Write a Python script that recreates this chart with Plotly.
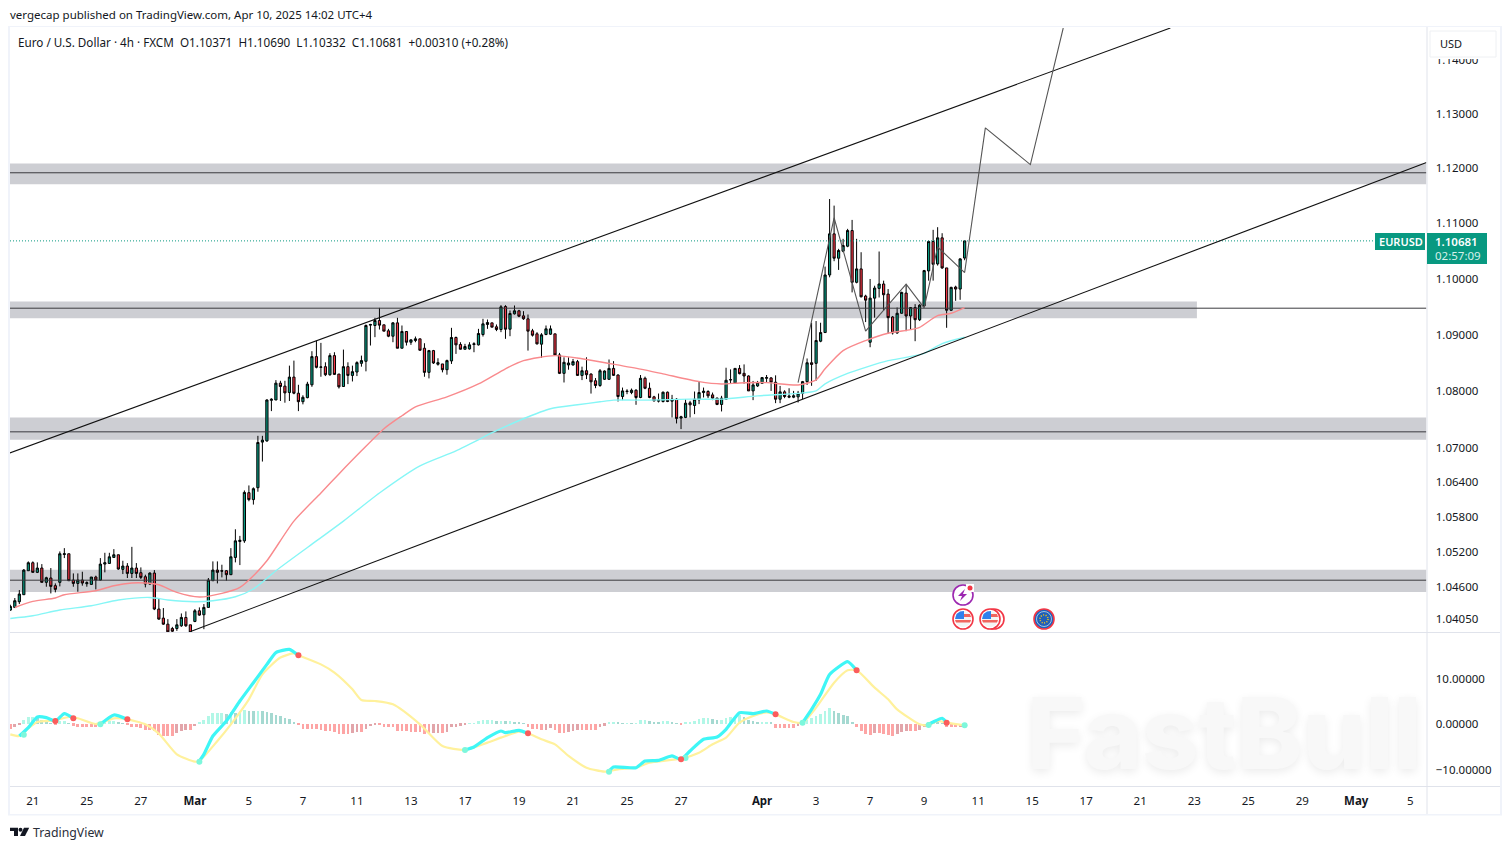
import numpy as np
import plotly.graph_objects as go

# EUR/USD 4h bars, oldest first
opens = [
    1.04199, 1.04245, 1.04342, 1.04462, 1.04872, 1.05009, 1.04844, 1.04918, 1.04673, 1.04747,
    1.04616, 1.04673, 1.05151, 1.05163, 1.04712, 1.04655, 1.04712, 1.04650, 1.04638, 1.04764,
    1.04712, 1.04986, 1.04997, 1.05100, 1.05146, 1.04895, 1.04952, 1.04826, 1.04918, 1.04838,
    1.04769, 1.04644, 1.04832, 1.04217, 1.04063, 1.03960, 1.03886, 1.03886, 1.03932, 1.04074,
    1.03949, 1.04006, 1.04188, 1.04120, 1.04245, 1.04701, 1.04883, 1.04872, 1.04872, 1.04804,
    1.05100, 1.05374, 1.05385, 1.06218, 1.06098, 1.06305, 1.07100, 1.07120, 1.07834, 1.07840,
    1.08137, 1.08084, 1.07971, 1.08244, 1.07959, 1.07810, 1.07881, 1.08108, 1.08607, 1.08417,
    1.08429, 1.08286, 1.08625, 1.08298, 1.08078, 1.08429, 1.08274, 1.08334, 1.08488, 1.08524,
    1.09167, 1.09161, 1.09250, 1.09173, 1.09066, 1.08970, 1.09208, 1.08756, 1.09054, 1.08863,
    1.08893, 1.08923, 1.08756, 1.08328, 1.08714, 1.08471, 1.08477, 1.08375, 1.08530, 1.08947,
    1.08822, 1.08738, 1.08744, 1.08822, 1.08816, 1.09000, 1.09179, 1.09208, 1.09137, 1.09089,
    1.09500, 1.09095, 1.09369, 1.09423, 1.09333, 1.09280, 1.09066, 1.09012, 1.08828, 1.09000,
    1.09006, 1.09012, 1.08637, 1.08310, 1.08459, 1.08459, 1.08518, 1.08274, 1.08357, 1.08298,
    1.08179, 1.08096, 1.08205, 1.08205, 1.08398, 1.08281, 1.07901, 1.07989, 1.07971, 1.08012,
    1.07884, 1.08223, 1.08047, 1.07895, 1.07819, 1.07813, 1.07977, 1.07819, 1.07854, 1.07521,
    1.07533, 1.07790, 1.07743, 1.07842, 1.07971, 1.07989, 1.07930, 1.07872, 1.07761, 1.07854,
    1.08194, 1.08141, 1.08398, 1.08311, 1.08264, 1.08000, 1.08088, 1.08135, 1.08223, 1.08229,
    1.08153, 1.07854, 1.07983, 1.07889, 1.07889, 1.07895, 1.07954, 1.08164, 1.08498, 1.08488,
    1.08881, 1.09035, 1.10066, 1.10808, 1.10368, 1.10495, 1.10585, 1.10868, 1.09934, 1.10175,
    1.09687, 1.08863, 1.09650, 1.09825, 1.09904, 1.09723, 1.09313, 1.09029, 1.09379, 1.09741,
    1.09331, 1.09482, 1.09264, 1.09512, 1.10139, 1.10669, 1.10265, 1.10736, 1.10193, 1.09433,
    1.09849, 1.09813, 1.10371,
]
highs = [
    1.04291, 1.04405, 1.04541, 1.04901, 1.05032, 1.05032, 1.05015, 1.04986, 1.04769, 1.04918,
    1.04655, 1.05203, 1.05260, 1.05163, 1.04826, 1.04826, 1.04855, 1.04690, 1.04764, 1.04787,
    1.05089, 1.05180, 1.05180, 1.05243, 1.05146, 1.05043, 1.05003, 1.05282, 1.05003, 1.04929,
    1.04804, 1.04844, 1.04883, 1.04405, 1.04234, 1.04046, 1.03914, 1.04046, 1.04142, 1.04177,
    1.03949, 1.04217, 1.04245, 1.04302, 1.04747, 1.05032, 1.05032, 1.04975, 1.04883, 1.05260,
    1.05585, 1.05471, 1.06257, 1.06344, 1.06310, 1.07210, 1.07210, 1.07852, 1.07870, 1.08191,
    1.08179, 1.08179, 1.08447, 1.08536, 1.08108, 1.07923, 1.08161, 1.08703, 1.08893, 1.08851,
    1.08506, 1.08667, 1.08685, 1.08298, 1.08732, 1.08506, 1.08447, 1.08524, 1.08625, 1.09179,
    1.09190, 1.09298, 1.09476, 1.09173, 1.09101, 1.09220, 1.09298, 1.09161, 1.09060, 1.08911,
    1.08964, 1.08923, 1.08845, 1.08726, 1.08726, 1.08578, 1.08477, 1.08554, 1.09119, 1.08964,
    1.08863, 1.08834, 1.08863, 1.08863, 1.09101, 1.09280, 1.09268, 1.09208, 1.09179, 1.09524,
    1.09524, 1.09429, 1.09518, 1.09440, 1.09417, 1.09357, 1.09101, 1.09042, 1.09024, 1.09161,
    1.09161, 1.09012, 1.08673, 1.08595, 1.08595, 1.08566, 1.08548, 1.08429, 1.08595, 1.08310,
    1.08227, 1.08387, 1.08363, 1.08556, 1.08527, 1.08293, 1.08059, 1.08030, 1.08042, 1.08030,
    1.08281, 1.08252, 1.08147, 1.07913, 1.07954, 1.07989, 1.07989, 1.07930, 1.07872, 1.07562,
    1.07854, 1.07825, 1.07989, 1.08176, 1.08059, 1.08012, 1.07971, 1.07884, 1.07913, 1.08410,
    1.08381, 1.08398, 1.08457, 1.08469, 1.08275, 1.08176, 1.08176, 1.08246, 1.08281, 1.08246,
    1.08275, 1.08088, 1.08012, 1.08047, 1.08000, 1.08000, 1.08176, 1.08574, 1.09210, 1.09240,
    1.09210, 1.10217, 1.11441, 1.11321, 1.10537, 1.10718, 1.10899, 1.11061, 1.10718, 1.10476,
    1.09711, 1.09994, 1.09873, 1.10489, 1.09964, 1.09813, 1.09331, 1.09482, 1.09765, 1.09892,
    1.09482, 1.09542, 1.09542, 1.10157, 1.10688, 1.10881, 1.10929, 1.10820, 1.10193, 1.09855,
    1.09873, 1.10368, 1.10690,
]
lows = [
    1.04188, 1.04234, 1.04302, 1.04462, 1.04872, 1.04844, 1.04832, 1.04673, 1.04598, 1.04484,
    1.04502, 1.04604, 1.05089, 1.04701, 1.04598, 1.04513, 1.04616, 1.04598, 1.04638, 1.04553,
    1.04701, 1.04844, 1.04997, 1.05100, 1.04889, 1.04815, 1.04747, 1.04747, 1.04747, 1.04730,
    1.04587, 1.04633, 1.04199, 1.04034, 1.03949, 1.03818, 1.03818, 1.03846, 1.03914, 1.03914,
    1.03818, 1.03994, 1.04103, 1.03875, 1.04245, 1.04701, 1.04655, 1.04758, 1.04701, 1.04804,
    1.05015, 1.04969, 1.05351, 1.06069, 1.06012, 1.06235, 1.06760, 1.07108, 1.07644, 1.07840,
    1.07822, 1.07792, 1.07822, 1.07941, 1.07644, 1.07763, 1.07870, 1.08072, 1.08399, 1.08250,
    1.08262, 1.08268, 1.08286, 1.08042, 1.08078, 1.08120, 1.08167, 1.08262, 1.08429, 1.08346,
    1.08804, 1.08953, 1.09089, 1.09060, 1.08953, 1.08863, 1.08756, 1.08756, 1.08804, 1.08816,
    1.08863, 1.08714, 1.08250, 1.08221, 1.08477, 1.08447, 1.08328, 1.08286, 1.08477, 1.08655,
    1.08732, 1.08732, 1.08732, 1.08685, 1.08804, 1.08964, 1.09101, 1.09131, 1.09060, 1.09042,
    1.08923, 1.08970, 1.09357, 1.09310, 1.09262, 1.08714, 1.08964, 1.08822, 1.08584, 1.08988,
    1.08994, 1.08625, 1.08298, 1.08149, 1.08375, 1.08447, 1.08268, 1.08191, 1.08209, 1.07953,
    1.08048, 1.08072, 1.08194, 1.08194, 1.08264, 1.07813, 1.07837, 1.07942, 1.07942, 1.07755,
    1.07872, 1.08030, 1.07872, 1.07813, 1.07796, 1.07796, 1.07802, 1.07533, 1.07427, 1.07328,
    1.07521, 1.07533, 1.07591, 1.07767, 1.07884, 1.07872, 1.07837, 1.07749, 1.07638, 1.07854,
    1.08135, 1.08129, 1.08293, 1.08129, 1.08000, 1.07837, 1.08071, 1.08129, 1.08158, 1.08000,
    1.07784, 1.07784, 1.07872, 1.07872, 1.07872, 1.07796, 1.07854, 1.08106, 1.08090, 1.08179,
    1.08863, 1.09029, 1.10024, 1.10314, 1.10157, 1.10476, 1.10567, 1.09753, 1.09916, 1.09662,
    1.09222, 1.08774, 1.09301, 1.09662, 1.09421, 1.09011, 1.09000, 1.09011, 1.09373, 1.09059,
    1.09090, 1.08881, 1.09240, 1.09494, 1.09964, 1.09964, 1.10235, 1.10175, 1.09120, 1.09421,
    1.09602, 1.09620, 1.10332,
]
closes = [
    1.04262, 1.04359, 1.04473, 1.04883, 1.05009, 1.04844, 1.04918, 1.04673, 1.04752, 1.04604,
    1.04553, 1.05163, 1.05163, 1.04701, 1.04655, 1.04712, 1.04661, 1.04667, 1.04764, 1.04712,
    1.04986, 1.05009, 1.05111, 1.05146, 1.04901, 1.04952, 1.04826, 1.04918, 1.04826, 1.04758,
    1.04644, 1.04832, 1.04217, 1.04046, 1.03960, 1.03829, 1.03840, 1.03949, 1.04074, 1.03932,
    1.03818, 1.04188, 1.04114, 1.04245, 1.04712, 1.04883, 1.04844, 1.04866, 1.04804, 1.05111,
    1.05385, 1.05396, 1.06223, 1.06098, 1.06287, 1.07093, 1.07135, 1.07840, 1.07852, 1.08137,
    1.08078, 1.07965, 1.08244, 1.07959, 1.07810, 1.07887, 1.08120, 1.08607, 1.08417, 1.08423,
    1.08286, 1.08625, 1.08292, 1.08072, 1.08429, 1.08274, 1.08340, 1.08500, 1.08536, 1.09161,
    1.09179, 1.09250, 1.09167, 1.09060, 1.08970, 1.09208, 1.08756, 1.09054, 1.08863, 1.08905,
    1.08923, 1.08720, 1.08328, 1.08714, 1.08494, 1.08500, 1.08375, 1.08536, 1.08947, 1.08816,
    1.08738, 1.08786, 1.08816, 1.08834, 1.09018, 1.09190, 1.09214, 1.09131, 1.09089, 1.09494,
    1.09095, 1.09375, 1.09423, 1.09327, 1.09280, 1.09060, 1.08988, 1.08834, 1.08994, 1.09101,
    1.09101, 1.08637, 1.08310, 1.08506, 1.08494, 1.08518, 1.08274, 1.08357, 1.08286, 1.08161,
    1.08096, 1.08357, 1.08352, 1.08398, 1.08275, 1.07901, 1.08000, 1.07995, 1.08012, 1.07884,
    1.08223, 1.08047, 1.07884, 1.07825, 1.07837, 1.07977, 1.07813, 1.07854, 1.07515, 1.07544,
    1.07784, 1.07755, 1.07854, 1.07971, 1.07995, 1.07913, 1.07872, 1.07761, 1.07872, 1.08188,
    1.08199, 1.08398, 1.08305, 1.08264, 1.08000, 1.08106, 1.08147, 1.08235, 1.08235, 1.08153,
    1.07854, 1.07983, 1.07901, 1.07907, 1.07913, 1.07960, 1.08164, 1.08498, 1.08469, 1.08893,
    1.09035, 1.10066, 1.10808, 1.10368, 1.10507, 1.10597, 1.10868, 1.09934, 1.10175, 1.09675,
    1.09614, 1.09650, 1.09831, 1.09904, 1.09711, 1.09301, 1.09029, 1.09379, 1.09753, 1.09331,
    1.09482, 1.09264, 1.09524, 1.10145, 1.10669, 1.10259, 1.10736, 1.10193, 1.09433, 1.09843,
    1.09813, 1.10356, 1.10681,
]
bars = list(range(len(closes)))

# moving averages
ema_fast_bar = [1, 5, 10, 12, 19, 23, 27, 30, 33, 37, 42, 47, 51, 54, 57, 63, 69, 73, 78, 83, 87, 90, 97,
                104, 110, 114, 121, 127, 133, 140, 145, 153, 158, 162, 168, 175, 179, 181, 185, 190, 195,
                200, 202, 206, 209, 212]
ema_fast = [1.04244, 1.04347, 1.04405, 1.04461, 1.04530, 1.04615, 1.04661, 1.04661, 1.04632, 1.04501,
            1.04422, 1.04484, 1.04586, 1.04786, 1.05043, 1.05726, 1.06213, 1.06545, 1.06948, 1.07335,
            1.07563, 1.07720, 1.07895, 1.08123, 1.08391, 1.08535, 1.08624, 1.08570, 1.08486, 1.08386,
            1.08302, 1.08164, 1.08123, 1.08141, 1.08146, 1.08105, 1.08195, 1.08391, 1.08714, 1.08893,
            1.09023, 1.09087, 1.09128, 1.09338, 1.09379, 1.09481]
ema_slow_bar = [0, 5, 11, 18, 24, 31, 35, 41, 45, 50, 54, 59, 68, 74, 82, 91, 99, 108, 114, 120, 126, 131,
                134, 142, 151, 158, 166, 175, 179, 181, 186, 190, 195, 199, 203, 207, 212]
ema_slow = [1.04056, 1.04102, 1.04200, 1.04273, 1.04371, 1.04415, 1.04371, 1.04342, 1.04359, 1.04427,
            1.04559, 1.04872, 1.05384, 1.05726, 1.06213, 1.06685, 1.06948, 1.07300, 1.07510, 1.07685,
            1.07755, 1.07808, 1.07837, 1.07837, 1.07855, 1.07855, 1.07913, 1.07956, 1.08000, 1.08125,
            1.08310, 1.08417, 1.08535, 1.08594, 1.08665, 1.08839, 1.08952]

# drawings on the price pane
zone_tops = [1.1209, 1.0959, 1.0753, 1.0489]
zone_bottoms = [1.1171, 1.0929, 1.0714, 1.0451]
zone_ends = [314.6, 263.6, 314.6, 314.6]
level_prices = [1.1192, 1.0947, 1.0728, 1.0471]
upper_bar = [-0.1, 257.7]
upper_price = [1.0691, 1.1460]
lower_bar = [39.9, 314.6]
lower_price = [1.0383, 1.1211]
path_bar = [175, 183, 190, 199, 203, 206, 212, 216.6, 226.6, 233.9]
path_price = [1.08146, 1.1110, 1.0906, 1.0990, 1.09475, 1.1057, 1.1011, 1.12745, 1.1207, 1.1460]
last_close = 1.10681
price_ticks = [1.0405, 1.046, 1.052, 1.058, 1.064, 1.07, 1.08, 1.09, 1.10, 1.11, 1.12, 1.13, 1.14]
price_labels = ["1.04050", "1.04600", "1.05200", "1.05800", "1.06400", "1.07000", "1.08000",
                "1.09000", "1.10000", "1.11000", "1.12000", "1.13000", "1.14000"]

# MACD pane
hist = [
    -1.03, -0.73, -0.30, 0.88, 1.47, 1.47, 1.25, 0.88, 0.44, 0.15,
    -0.29, 0.73, 0.73, 0.15, -0.37, -0.59, -0.66, -0.73, -0.73, -0.73,
    0.44, 0.59, 0.73, 0.73, 0.22, 0.07, -0.22, -0.59, -0.73, -0.88,
    -1.25, -1.25, -1.61, -2.42, -2.56, -2.56, -2.56, -2.05, -1.47, -1.32,
    -1.32, -0.44, 0.44, 0.81, 1.83, 2.42, 2.42, 2.42, 2.20, 2.64,
    2.42, 2.93, 3.08, 2.93, 2.78, 2.93, 2.78, 2.64, 2.34, 2.05,
    1.83, 1.32, 1.10, 0.29, -0.15, -1.03, -1.03, -1.03, -1.03, -1.32,
    -1.47, -1.47, -1.83, -2.20, -2.20, -2.20, -2.05, -1.83, -1.83, -1.03,
    -0.44, -0.22, -0.29, -0.59, -0.73, -0.73, -1.47, -1.61, -1.61, -1.76,
    -1.76, -1.76, -2.20, -2.20, -2.05, -1.90, -1.90, -1.76, -0.73, -0.59,
    -0.37, -0.20, 0.07, 0.07, 0.59, 0.88, 0.88, 0.88, 0.59, 0.73,
    0.59, 0.59, 0.44, 0.22, 0.15, -0.59, -1.10, -1.17, -1.32, -1.25,
    -0.88, -1.32, -1.90, -1.90, -1.76, -1.61, -1.32, -1.32, -1.32, -1.32,
    -1.32, -0.59, -0.37, 0.37, 0.51, 0.22, 0.15, 0.15, 0.07, 0.07,
    0.81, 0.81, 0.59, 0.44, 0.37, 0.59, 0.59, 0.51, 0.15, -0.29,
    0.29, 0.44, 0.73, 1.17, 1.32, 1.32, 1.17, 0.88, 0.88, 1.32,
    1.47, 1.61, 2.05, 1.61, 0.88, 0.59, 0.44, 0.44, 0.44, 0.29,
    -0.95, -0.95, -0.95, -0.95, -0.95, -0.37, 0.59, 0.88, 1.32, 1.83,
    2.20, 2.78, 3.52, 2.93, 2.42, 2.05, 1.83, 0.51, -0.59, -1.47,
    -2.20, -2.34, -2.05, -2.05, -2.20, -2.34, -2.56, -2.20, -1.76, -1.61,
    -1.61, -1.61, -1.32, -0.59, 0.29, 0.59, 0.29, 0.15, -0.73, -0.73,
    -0.73, -0.59, 0.0,
]
signal_bar = [0, 2, 4, 6, 10, 13, 15, 19, 23, 26, 30, 33, 37, 41, 42, 46, 49, 53, 56, 60, 63, 64, 69, 72, 76,
              78, 81, 85, 91, 96, 101, 106, 109, 113, 115, 118, 121, 124, 128, 132, 135, 139, 142, 149, 153,
              156, 159, 162, 165, 168, 170, 174, 176, 179, 183, 186, 188, 192, 195, 197, 202, 204, 206, 208, 212]
signal = [-2.27, -2.64, -0.95, 0.44, 0.81, 1.54, 1.25, 0.0, 1.25, 1.03, -0.07, -2.12, -6.67, -8.28, -8.13,
          -3.74, -0.07, 5.42, 10.9, 14.6, 15.5, 15.1, 13.1, 11.3, 7.62, 5.27, 5.05, 4.32, -0.07, -4.84,
          -5.71, -4.10, -3.0, -1.68, -2.05, -3.37, -4.47, -7.03, -9.6, -10.48, -9.96, -9.6, -8.5, -7.62,
          -6.3, -4.47, -3.0, 0.29, 1.76, 2.56, 2.12, 0.44, 0.29, 3.59, 9.08, 11.8, 11.8, 7.99, 5.42, 3.22,
          -0.07, -0.22, 0.66, 0.29, -0.29]
# MACD line is only shown while it is above the signal, None splits the pieces
macd_bar = [2, 4, 6, 8, 10, 12, 14, None, 20, 23, 26, None,
            42, 43, 45, 48, 51, 54, 57, 59, 62, 64, None,
            101, 103, 106, 109, 110, 113, 115, None,
            133, 134, 139, 141, 144, 147, 149, 151, 154, 157, 159, 162, 165, 168, 170, None,
            176, 178, 180, 182, 186, 188, None, 204, 205, 207, 208]
macd = [-2.64, -0.8, 1.54, 1.39, 0.66, 2.27, 1.25, None, -0.07, 1.98, 1.03, None,
        -8.13, -6.67, -2.64, 0.66, 5.05, 9.08, 13.1, 15.7, 16.4, 15.1, None,
        -5.71, -5.05, -3.0, -1.54, -1.9, -1.39, -2.05, None,
        -10.33, -9.45, -9.6, -8.13, -7.99, -7.03, -7.77, -5.93, -3.37, -2.86, -1.17, 2.49, 2.27, 2.86, 2.12, None,
        0.29, 3.22, 6.52, 10.9, 13.7, 11.8, None, -0.07, 0.44, 1.25, 0.29]
cross_up_bar = [3, 20, 42, 101, 133, 150, 176, 204, 212]
cross_up = [-2.35, -0.07, -8.28, -5.71, -10.48, -7.45, 0.29, -0.22, -0.29]
cross_down_bar = [10, 14, 26, 64, 115, 149, 170, 188, 208]
cross_down = [0.66, 1.25, 1.03, 15.1, -2.05, -7.77, 2.12, 11.8, 0.29]
macd_ticks = [10, 0, -10]
macd_labels = ["10.00000", "0.00000", "\u221210.00000"]

# date axis
date_bars = [5, 17, 29, 41, 53, 65, 77, 89, 101, 113, 125, 137, 149, 167, 179, 191, 203, 215, 227, 239, 251,
             263, 275, 287, 299, 311]
date_labels = ["21", "25", "27", "<b>Mar</b>", "5", "7", "11", "13", "17", "19", "21", "25", "27", "<b>Apr</b>",
               "3", "7", "9", "11", "15", "17", "21", "23", "25", "29", "<b>May</b>", "5"]

W, H = 1510, 850
FONT = "Noto Sans"
TEXT = "#131722"
FRAME = "#e0e3eb"
GREEN = "#089981"
RED = "#f23645"
X_RANGE = [-0.07, 314.6]


def fx(x):
    return x / W


def fy(y):
    return 1 - y / H


def hist_color(i):
    # light while the bar grows away from zero, darker while it shrinks
    prev = hist[i - 1] if i else 0
    if hist[i] >= 0:
        return "#b2f7e7" if hist[i] >= prev else "#a5d9d1"
    return "#fda5a5" if hist[i] <= prev else "#e2a5aa"


fig = go.Figure()

# levels under the candles
for price in level_prices:
    fig.add_trace(go.Scatter(x=X_RANGE, y=[price, price], mode="lines",
                             line=dict(color="#3a3a3f", width=1), xaxis="x", yaxis="y"))

fig.add_trace(go.Scatter(x=[X_RANGE[0], 303.3], y=[last_close, last_close], mode="lines",
                         line=dict(color=GREEN, width=1, dash="1px,2px"), xaxis="x", yaxis="y"))

fig.add_trace(go.Scatter(x=ema_fast_bar, y=ema_fast, mode="lines",
                         line=dict(color="#f98a8d", width=1.4, shape="spline", smoothing=0.7), xaxis="x", yaxis="y"))
fig.add_trace(go.Scatter(x=ema_slow_bar, y=ema_slow, mode="lines",
                         line=dict(color="#86f6f6", width=1.4, shape="spline", smoothing=0.7), xaxis="x", yaxis="y"))

fig.add_trace(go.Candlestick(
    x=bars, open=opens, high=highs, low=lows, close=closes,
    increasing=dict(fillcolor=GREEN, line=dict(color="#000000", width=1)),
    decreasing=dict(fillcolor=RED, line=dict(color="#000000", width=1)),
    whiskerwidth=0, xaxis="x", yaxis="y",
))

fig.add_trace(go.Scatter(x=upper_bar, y=upper_price, mode="lines",
                         line=dict(color="#111111", width=1.1), xaxis="x", yaxis="y"))
fig.add_trace(go.Scatter(x=lower_bar, y=lower_price, mode="lines",
                         line=dict(color="#111111", width=1.1), xaxis="x", yaxis="y"))
fig.add_trace(go.Scatter(x=path_bar, y=path_price, mode="lines",
                         line=dict(color="#555555", width=1.1), xaxis="x", yaxis="y"))

# indicator pane
fig.add_trace(go.Bar(x=bars, y=hist, width=0.62, marker=dict(color=[hist_color(i) for i in bars], line_width=0),
                     xaxis="x2", yaxis="y2"))
fig.add_trace(go.Scatter(x=signal_bar, y=signal, mode="lines",
                         line=dict(color="#fff19c", width=2.2, shape="spline", smoothing=0.6), xaxis="x2", yaxis="y2"))
fig.add_trace(go.Scatter(x=macd_bar, y=macd, mode="lines", connectgaps=False,
                         line=dict(color="#3ff6f6", width=3.2, shape="spline", smoothing=0.5), xaxis="x2", yaxis="y2"))
fig.add_trace(go.Scatter(x=cross_up_bar, y=cross_up, mode="markers",
                         marker=dict(color="#7df7dc", size=6), xaxis="x2", yaxis="y2"))
fig.add_trace(go.Scatter(x=cross_down_bar, y=cross_down, mode="markers",
                         marker=dict(color="#fb5c5c", size=6), xaxis="x2", yaxis="y2"))

shapes = []
for top, bottom, end in zip(zone_tops, zone_bottoms, zone_ends):
    shapes.append(dict(type="rect", xref="x", yref="y", x0=X_RANGE[0], x1=end, y0=bottom, y1=top,
                       fillcolor="#cdced3", line_width=0, layer="below"))


def rule(x0, y0, x1, y1, color=FRAME, width=1):
    shapes.append(dict(type="line", xref="paper", yref="paper", x0=fx(x0), x1=fx(x1), y0=fy(y0), y1=fy(y1),
                       line=dict(color=color, width=width), layer="above"))


def box(x0, y0, x1, y1, fill, line_color=None, kind="rect", width=1, dash="solid"):
    shapes.append(dict(type=kind, xref="paper", yref="paper", x0=fx(x0), x1=fx(x1), y0=fy(y0), y1=fy(y1),
                       fillcolor=fill, line=dict(color=line_color, width=width if line_color else 0, dash=dash),
                       layer="above"))


def poly(points, fill):
    d = "M " + " L ".join(f"{fx(x):.5f},{fy(y):.5f}" for x, y in points) + " Z"
    shapes.append(dict(type="path", xref="paper", yref="paper", path=d, fillcolor=fill, line_width=0, layer="above"))


# outer frame and pane separators
box(8, 26, 10, 814, "#f0f3fa")
box(8, 26, 1502, 27, "#f0f3fa")
box(1500, 26, 1502, 814, "#f0f3fa")
box(8, 814, 1502, 815.5, "#f0f3fa")
rule(1427, 27, 1427, 814)
rule(10, 632.5, 1500, 632.5)
rule(10, 786.5, 1500, 786.5)

# USD unit box hides the top of the 1.14000 label
box(1430, 57, 1496, 59, "#ffffff")
box(1430, 31, 1496, 57, "#ffffff", "#eef0f3")

# price label
box(1375, 233, 1425, 250, GREEN)
box(1427, 233, 1487, 264, GREEN)


def flag(cx, cy):
    box(cx - 10, cy - 10, cx + 10, cy + 10, "#ffffff", RED, "circle", 1.6)
    box(cx - 8, cy - 8, cx + 8, cy + 8, "#f4f4f4", None, "circle")
    poly([(cx - 8, cy), (cx - 6.5, cy - 5), (cx - 3, cy - 7.5), (cx + 1, cy - 8), (cx + 1, cy)], "#2f80ed")
    poly([(cx + 1, cy - 5), (cx + 7, cy - 5), (cx + 8, cy - 2), (cx + 1, cy - 2)], "#f0655f")
    poly([(cx - 8, cy + 1), (cx + 8, cy + 1), (cx + 7, cy + 3.5), (cx - 7, cy + 3.5)], "#f0655f")


# event icons
box(953, 585, 973, 605, "#ffffff", "#9c27b0", "circle", 1.6)
poly([(965, 589), (958, 596), (962, 596), (960, 601), (967, 594), (963, 594)], "#9c27b0")
box(966, 584, 974, 592, "#ffffff")
box(967.5, 585.5, 972.5, 590.5, RED, None, "circle")
flag(963, 619)
box(984, 609, 1004, 629, "#ffffff", RED, "circle", 1.6)
flag(990, 619)
box(1034, 609, 1054, 629, "#1565c0", RED, "circle", 1.6)
box(1036.5, 611.5, 1051.5, 626.5, "#1f5fb8", "#ffffff", "circle", 0.6)
box(1040, 615, 1048, 623, "rgba(0,0,0,0)", "#f5c518", "circle", 1.6, "1px,1.5px")

# TradingView mark
poly([(10, 827.7), (18, 827.7), (18, 836), (14, 836), (14, 831), (10, 831)], "#131722")
box(18.5, 827.7, 22.5, 831.7, "#131722", None, "circle")
poly([(24, 827.7), (29.2, 827.7), (25, 836), (20, 836)], "#131722")


def note(x, y, text, size=12, color=TEXT, anchor="left", **kw):
    return dict(xref="paper", yref="paper", x=fx(x), y=fy(y), text=text, showarrow=False, xanchor=anchor,
                yanchor="middle", font=dict(family=kw.pop("family", FONT), size=size, color=color, **kw))


annotations = [
    note(8, 14, "vergecap published on TradingView.com, Apr 10, 2025 14:02 UTC+4", 11.5),
    note(16, 41.5, "Euro / U.S. Dollar \u00b7 4h \u00b7 FXCM\u00a0\u00a0O1.10371\u00a0\u00a0H1.10690\u00a0\u00a0L1.10332"
                   "\u00a0\u00a0C1.10681\u00a0\u00a0+0.00310 (+0.28%)", 11.7),
    note(1438, 44, "USD", 11),
    note(1401, 241.5, "EURUSD", 11, "#ffffff", "center", weight=600),
    note(1433, 241.5, "1.10681", 11.5, "#ffffff", weight=600),
    note(1433, 256, "02:57:09", 11.5, "#d5f0ea"),
    note(31, 832, "TradingView", 12.3, "#2a2e39"),
    note(1025, 733, "FastBull", 99, "#f8f8f8", family="Inter", weight=800, shadow="0px 3px 10px #ececec"),
]

fig.update_layout(
    width=W, height=H, margin=dict(l=0, r=0, t=0, b=0), paper_bgcolor="#ffffff", plot_bgcolor="#ffffff",
    showlegend=False, hovermode=False, bargap=0, shapes=shapes, annotations=annotations,
    font=dict(family=FONT, size=12, color=TEXT),
    xaxis=dict(domain=[fx(10), fx(1426.5)], range=X_RANGE, anchor="y", showgrid=False, zeroline=False,
               showticklabels=False, rangeslider=dict(visible=False), fixedrange=True),
    yaxis=dict(domain=[fy(633), fy(28)], type="log", range=[np.log10(1.0381), np.log10(1.1460)], side="right",
               anchor="x", tickmode="array", tickvals=price_ticks, ticktext=price_labels, showgrid=False,
               zeroline=False, ticks="outside", ticklen=6, tickcolor="rgba(0,0,0,0)", showline=False,
               tickfont=dict(family=FONT, size=11.5, color=TEXT), fixedrange=True),
    xaxis2=dict(domain=[fx(10), fx(1426.5)], range=X_RANGE, anchor="y2", showgrid=False, zeroline=False,
                tickmode="array", tickvals=date_bars, ticktext=date_labels, ticks="outside", ticklen=3,
                tickcolor="rgba(0,0,0,0)", tickangle=0, tickfont=dict(family=FONT, size=11.5, color=TEXT),
                fixedrange=True),
    yaxis2=dict(domain=[fy(787), fy(634)], range=[-13.85, 19.78], side="right", anchor="x2", tickmode="array",
                tickvals=macd_ticks, ticktext=macd_labels, showgrid=False, zeroline=False, ticks="outside",
                ticklen=6, tickcolor="rgba(0,0,0,0)", tickfont=dict(family=FONT, size=11.5, color=TEXT),
                fixedrange=True),
)

fig.write_html("out.html", config=dict(displayModeBar=False),
               post_script="document.body.style.margin='0';document.body.style.overflow='hidden';")
